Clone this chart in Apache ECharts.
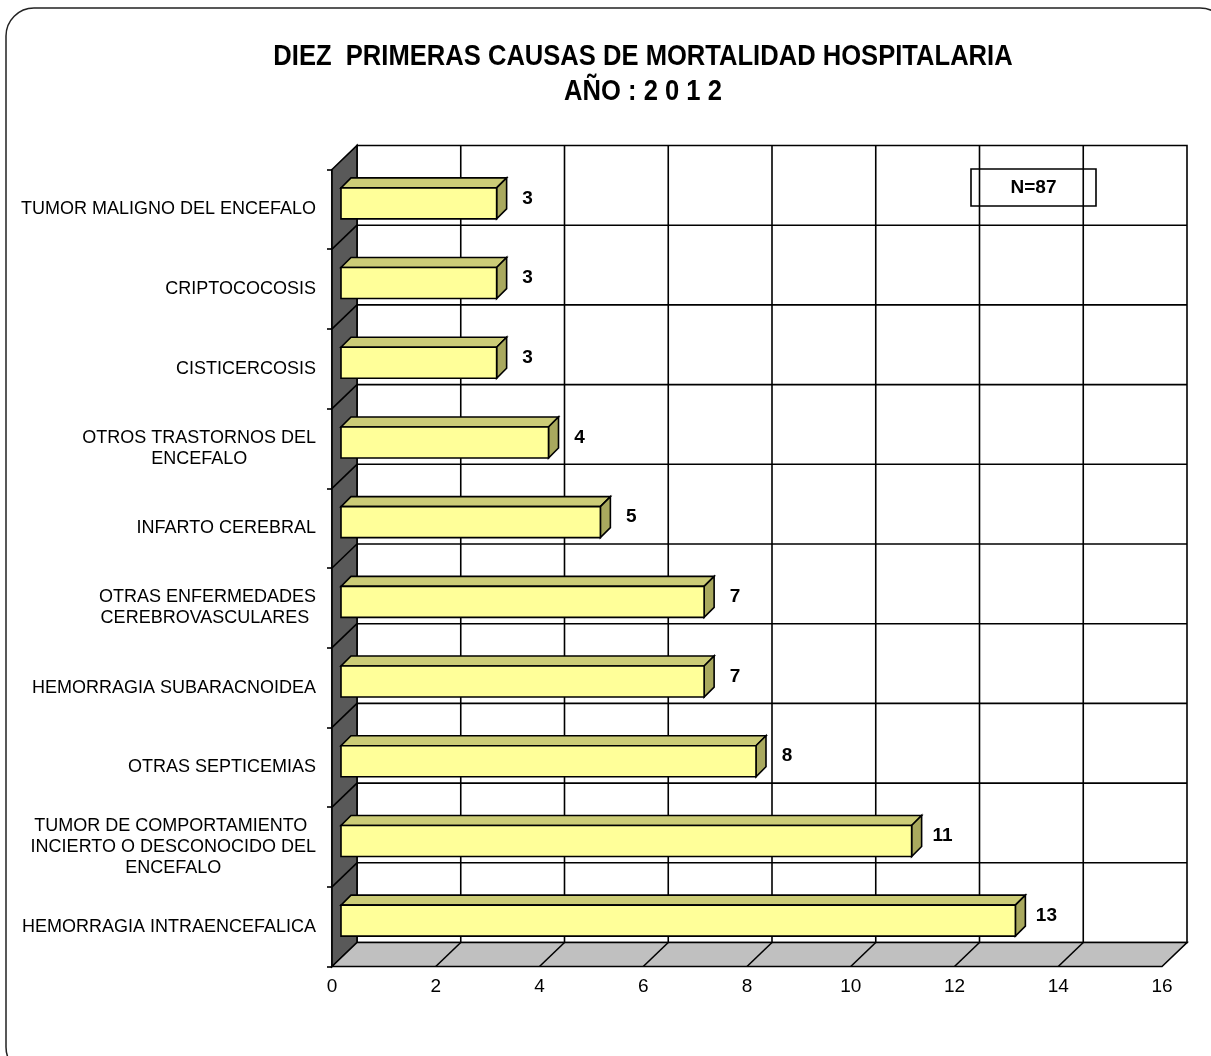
<!DOCTYPE html>
<html>
<head>
    <meta charset="utf-8">
    <title>Mortalidad hospitalaria 2012</title>
    <script src="https://cdn.jsdelivr.net/npm/echarts@6/dist/echarts.min.js"></script>
    <style>
        html, body { margin: 0; padding: 0; background: #fff; }
        #chart { width: 1211px; height: 1056px; }
    </style>
</head>
<body>
<div id="chart"></div>
<script>
    // datos
    var categories = [
        'TUMOR MALIGNO DEL ENCEFALO',
        'CRIPTOCOCOSIS',
        'CISTICERCOSIS',
        'OTROS TRASTORNOS DEL\nENCEFALO',
        'INFARTO CEREBRAL',
        'OTRAS ENFERMEDADES\nCEREBROVASCULARES ',
        'HEMORRAGIA SUBARACNOIDEA',
        'OTRAS SEPTICEMIAS',
        'TUMOR DE COMPORTAMIENTO \nINCIERTO O DESCONOCIDO DEL\nENCEFALO',
        'HEMORRAGIA INTRAENCEFALICA'
    ];
    var values = [3, 3, 3, 4, 5, 7, 7, 8, 11, 13];
    var xTicks = [0, 2, 4, 6, 8, 10, 12, 14, 16];
    var titleLines = ['DIEZ  PRIMERAS CAUSAS DE MORTALIDAD HOSPITALARIA', 'AÑO : 2 0 1 2'];
    var nLabel = 'N=87';

    var FONT = '"Liberation Sans", Arial, sans-serif';
    var D = [25, -24];      // profundidad de las paredes
    var BF = [9, -6];       // cara frontal de la barra
    var BD = [10, -10];     // fondo de la barra
    var BAR_H = 31;
    var xMax = xTicks[xTicks.length - 1];
    var nCat = categories.length;

    var ctx = document.createElement('canvas').getContext('2d');
    ctx.font = '18px ' + FONT;
    function blockWidth(txt) {
        var w = 0;
        txt.split('\n').forEach(function (l) { w = Math.max(w, ctx.measureText(l).width); });
        return w;
    }

    function add(p, d) { return [p[0] + d[0], p[1] + d[1]]; }
    var line = function (a, b) {
        return { type: 'line', shape: { x1: a[0], y1: a[1], x2: b[0], y2: b[1] },
            style: { stroke: '#000', lineWidth: 1.6 } };
    };
    var poly = function (pts, fill) {
        return { type: 'polygon', shape: { points: pts },
            style: { fill: fill, stroke: '#000', lineWidth: 1.6 } };
    };

    function renderWalls(params, api) {
        var p = function (x, y) { return api.coord([x, y]); };
        var els = [];
        els.push(poly([add(p(0, 0), D), add(p(xMax, 0), D), add(p(xMax, nCat), D), add(p(0, nCat), D)], '#fff'));
        xTicks.forEach(function (x) {
            if (x > 0 && x < xMax) els.push(line(add(p(x, 0), D), add(p(x, nCat), D)));
        });
        for (var k = 1; k < nCat; k++) els.push(line(add(p(0, k), D), add(p(xMax, k), D)));
        els.push(poly([p(0, 0), add(p(0, 0), D), add(p(0, nCat), D), p(0, nCat)], '#595959'));
        for (var k = 1; k < nCat; k++) els.push(line(p(0, k), add(p(0, k), D)));
        els.push(poly([p(0, nCat), add(p(0, nCat), D), add(p(xMax, nCat), D), p(xMax, nCat)], '#c0c0c0'));
        xTicks.forEach(function (x) {
            if (x > 0 && x < xMax) els.push(line(p(x, nCat), add(p(x, nCat), D)));
        });
        return { type: 'group', children: els };
    }

    function renderBar(params, api) {
        var v = api.value(0), i = api.value(1);
        var c0 = api.coord([0, i]), c1 = api.coord([v, i]);
        var x0 = c0[0] + BF[0], x1 = c1[0] + BF[0];
        var yc = c0[1] + BF[1];
        var top = yc - BAR_H / 2, bot = yc + BAR_H / 2;
        return {
            type: 'group',
            children: [
                poly([[x0, top], [x1, top], [x1 + BD[0], top + BD[1]], [x0 + BD[0], top + BD[1]]], '#cccc77'),
                poly([[x1, top], [x1 + BD[0], top + BD[1]], [x1 + BD[0], bot + BD[1]], [x1, bot]], '#a9a95e'),
                { type: 'rect', shape: { x: x0, y: top, width: x1 - x0, height: BAR_H },
                    style: { fill: '#ffff99', stroke: '#000', lineWidth: 1.6 } },
                { type: 'text', style: { text: String(v), x: x1 + 31, y: c0[1] - 11,
                    align: 'center', verticalAlign: 'middle', fill: '#000',
                    font: 'bold 19px ' + FONT } }
            ]
        };
    }

    function renderCatLabel(params, api) {
        var i = api.value(1);
        var c = api.coord([0, i]);
        var txt = categories[i];
        var w = blockWidth(txt);
        return { type: 'text', style: { text: txt, x: c[0] - 16 - w / 2, y: c[1],
            align: 'center', verticalAlign: 'middle', fill: '#000',
            font: '18px ' + FONT, lineHeight: 21 } };
    }

    var chart = echarts.init(document.getElementById('chart'));
    chart.setOption({
        animation: false,
        grid: { left: 332, top: 169.5, width: 830, height: 797 },
        xAxis: {
            type: 'value', min: 0, max: xMax, interval: 2,
            axisLine: { show: true, lineStyle: { color: '#000', width: 1.6 } },
            axisTick: { show: true, length: 5, lineStyle: { color: '#000', width: 1.6 } },
            splitLine: { show: false },
            axisLabel: { color: '#000', fontSize: 19, fontFamily: FONT, margin: 11 }
        },
        yAxis: [{
            type: 'category', inverse: true, data: categories,
            axisLine: { show: true, lineStyle: { color: '#000', width: 1.6 } },
            axisTick: { show: true, length: 5, lineStyle: { color: '#000', width: 1.6 } },
            axisLabel: { show: false },
            splitLine: { show: false }
        }, {
            type: 'value', inverse: true, min: 0, max: nCat, show: false
        }],
        graphic: [
            { type: 'rect', shape: { x: 6, y: 8, width: 1222, height: 1067, r: 28 },
                style: { fill: 'none', stroke: '#222', lineWidth: 1.5 }, z: 0 },
            { type: 'text', x: 643, y: 40, scaleX: 0.93, scaleY: 1.08, z: 10,
                style: { text: titleLines.join('\n'), x: 0, y: 0, align: 'center', fill: '#000',
                    font: 'bold 27.5px ' + FONT, lineHeight: 32 } },
            { type: 'rect', z: 10, shape: { x: 971, y: 169, width: 125, height: 37 },
                style: { fill: 'none', stroke: '#000', lineWidth: 1.6 } },
            { type: 'text', z: 10, x: 1033.5, y: 187.5,
                style: { text: nLabel, align: 'center', verticalAlign: 'middle', fill: '#000',
                    font: 'bold 19px ' + FONT } }
        ],
        series: [{
            type: 'custom', name: 'paredes', xAxisIndex: 0, yAxisIndex: 1,
            data: [[0, 0]], renderItem: renderWalls, silent: true, z: 1
        }, {
            type: 'custom', name: 'causas', xAxisIndex: 0, yAxisIndex: 0,
            data: values.map(function (v, i) { return [v, i]; }),
            renderItem: renderBar, z: 3
        }, {
            type: 'custom', name: 'etiquetas', xAxisIndex: 0, yAxisIndex: 0,
            data: categories.map(function (c, i) { return [0, i]; }),
            renderItem: renderCatLabel, silent: true, z: 3
        }]
    });
</script>
</body>
</html>
